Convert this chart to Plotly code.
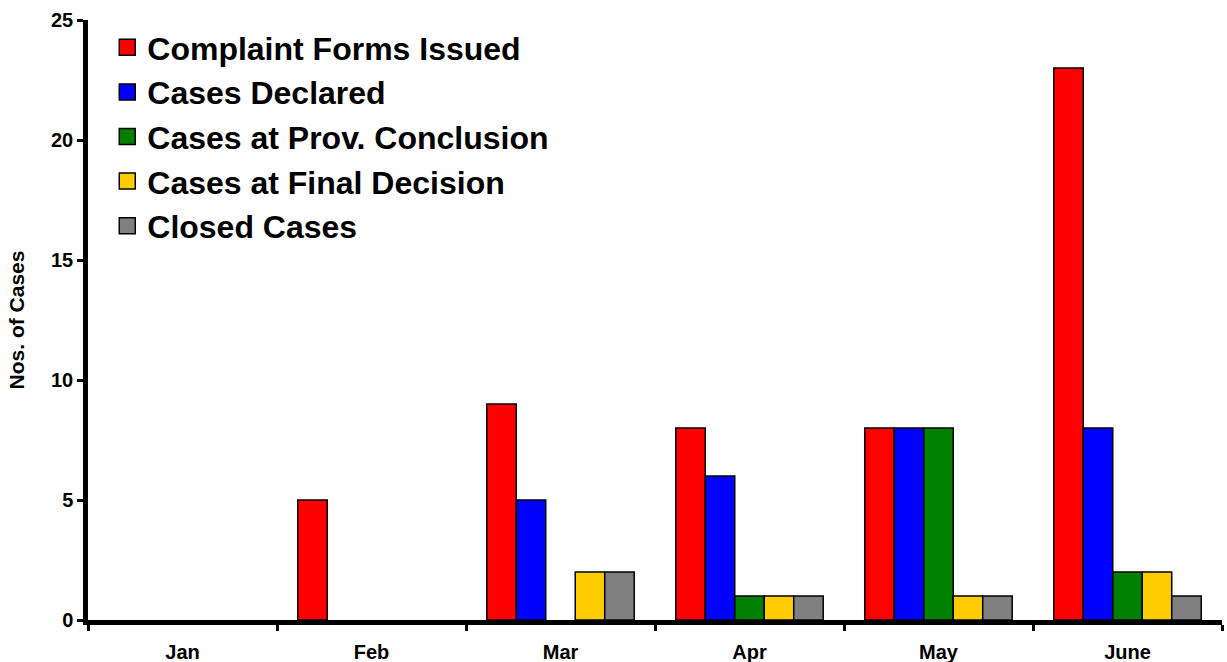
import plotly.graph_objects as go

months = ["Jan", "Feb", "Mar", "Apr", "May", "June"]
complaint_forms = [0, 5, 9, 8, 8, 23]
cases_declared = [0, 0, 5, 6, 8, 8]
prov_conclusion = [0, 0, 0, 1, 8, 2]
final_decision = [0, 0, 2, 1, 1, 2]
closed_cases = [0, 0, 2, 1, 1, 1]

series = [
    ("Complaint Forms Issued", complaint_forms, "#FF0000"),
    ("Cases Declared", cases_declared, "#0000FF"),
    ("Cases at Prov. Conclusion", prov_conclusion, "#008000"),
    ("Cases at Final Decision", final_decision, "#FFCC00"),
    ("Closed Cases", closed_cases, "#808080"),
]

fig = go.Figure()
for i, (name, vals, color) in enumerate(series):
    # no outline on empty bars so nothing shows along the baseline
    outline = [1.5 if v > 0 else 0 for v in vals]
    fig.add_trace(go.Bar(
        x=months, y=vals, name=name, showlegend=False,
        marker=dict(color=color, line=dict(color="black", width=outline)),
    ))
    # square legend swatch
    fig.add_trace(go.Scatter(
        x=[None], y=[None], mode="markers", name=name, legendgroup=f"g{i}",
        marker=dict(symbol="square", size=16, color=color,
                    line=dict(color="black", width=1.5)),
    ))

font_family = "Liberation Sans, Arial, sans-serif"

fig.update_layout(
    width=1227, height=662,
    margin=dict(l=88, r=5, t=20, b=42),
    plot_bgcolor="white", paper_bgcolor="white",
    barmode="group", bargap=0.22, bargroupgap=0,
    font=dict(family=font_family, color="black"),
    legend=dict(
        x=0.017, y=1.0, xanchor="left", yanchor="top",
        font=dict(size=32, family=font_family, weight="bold"),
        bgcolor="rgba(0,0,0,0)", traceorder="grouped", tracegroupgap=0,
    ),
    xaxis=dict(
        type="category", showgrid=False, zeroline=False, automargin=False,
        showline=True, linecolor="black", linewidth=4.5,
        ticks="outside", tickson="boundaries", ticklen=6, tickwidth=3,
        tickcolor="black", ticklabelstandoff=10,
        tickfont=dict(size=20, family=font_family, weight="bold"),
    ),
    yaxis=dict(
        range=[0, 25], tickvals=[0, 5, 10, 15, 20, 25], automargin=False,
        showgrid=False, zeroline=False,
        showline=True, linecolor="black", linewidth=4.5,
        ticks="outside", ticklen=6, tickwidth=3, tickcolor="black",
        tickfont=dict(size=20, family=font_family, weight="bold"),
        title=dict(text="Nos. of Cases", standoff=22,
                   font=dict(size=21, family=font_family, weight="bold")),
    ),
)

fig.write_html("out.html")
